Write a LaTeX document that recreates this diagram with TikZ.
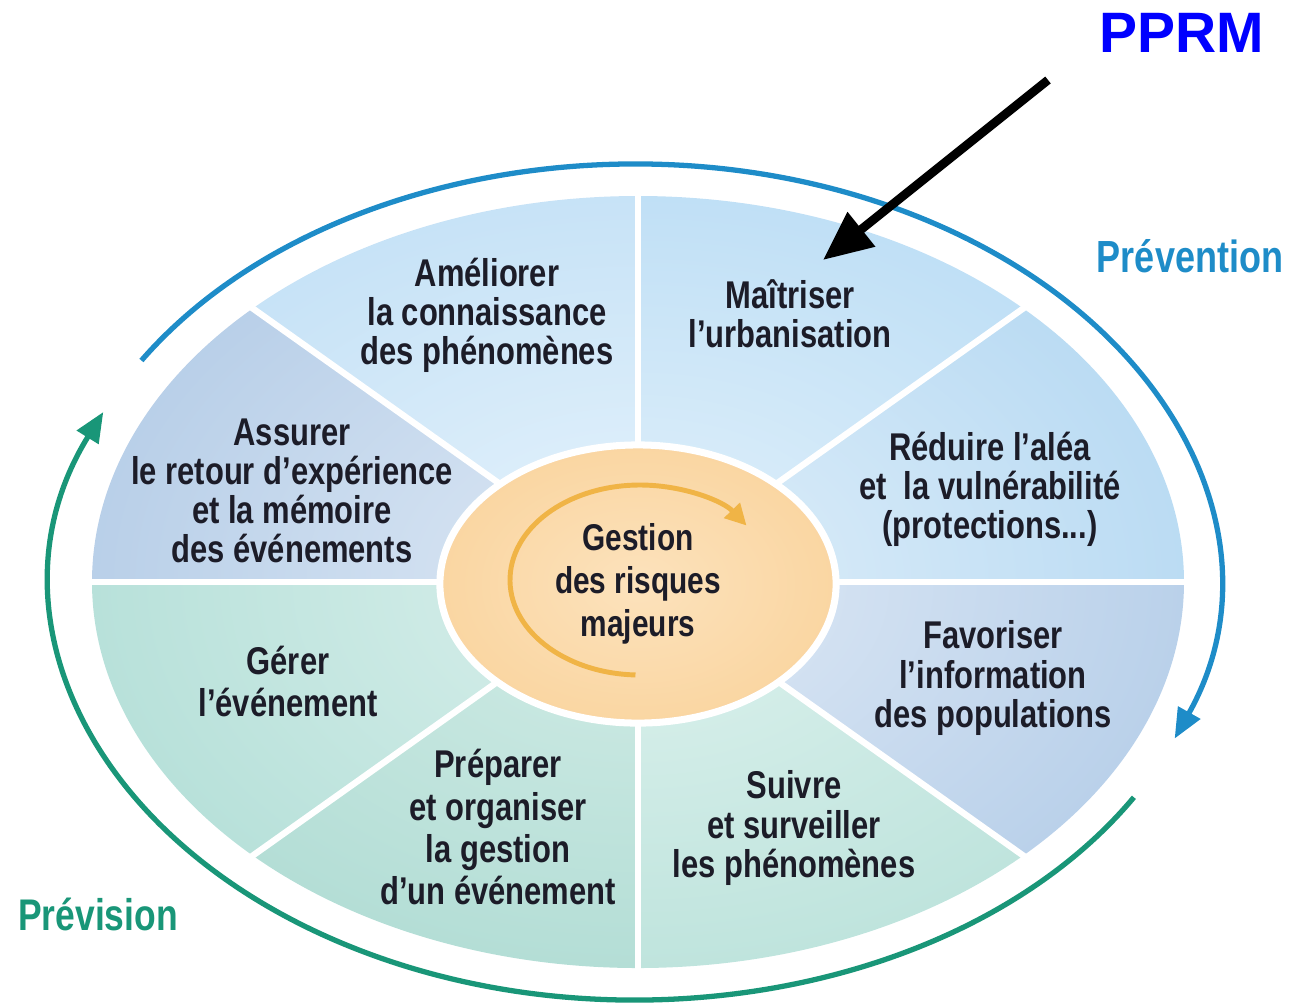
\documentclass[tikz,border=0pt]{standalone}
\usepackage{fontspec}
\usepackage{tikz}
\usetikzlibrary{arrows.meta,shapes.geometric}
\newfontfamily\labelfont{Liberation Sans}[FakeStretch=0.8]
\newfontfamily\pprmfont{Liberation Sans}
\definecolor{ink}{RGB}{28,28,40}
\definecolor{sRE}{RGB}{150,200,236}\definecolor{sREi}{RGB}{224,239,250}
\definecolor{sMA}{RGB}{158,206,240}\definecolor{sMAi}{RGB}{226,241,251}
\definecolor{sAM}{RGB}{168,210,241}\definecolor{sAMi}{RGB}{230,243,252}
\definecolor{sAS}{RGB}{148,182,220}\definecolor{sASi}{RGB}{222,233,245}
\definecolor{sGE}{RGB}{150,210,200}\definecolor{sGEi}{RGB}{218,240,236}
\definecolor{sPR}{RGB}{150,208,198}\definecolor{sPRi}{RGB}{210,236,230}
\definecolor{sSU}{RGB}{160,214,204}\definecolor{sSUi}{RGB}{222,242,238}
\definecolor{sFA}{RGB}{148,184,222}\definecolor{sFAi}{RGB}{224,234,246}
\definecolor{hubO}{RGB}{250,214,162}\definecolor{hubI}{RGB}{252,226,188}
\definecolor{spin}{RGB}{240,180,70}
\definecolor{prevB}{RGB}{30,140,200}
\definecolor{prevG}{RGB}{25,150,120}
\definecolor{pprm}{RGB}{0,0,255}

\begin{document}
\begin{tikzpicture}[x=0.01cm,y=0.01cm,
  txt/.style={align=center,text=ink,font=\labelfont\bfseries\fontsize{11}{11.1}\selectfont},
  txtwide/.style={font=\labelfont\bfseries\fontsize{11}{11.95}\selectfont},
  sep/.style={draw=white,line width=1.8pt},
  hub/.style={ellipse,minimum width=3.96cm,minimum height=2.78cm,draw=white,line width=2pt,inner color=hubI,outer color=hubO},
  ringB/.style={draw=prevB,line width=1.5pt,-{Triangle[length=8.5pt,width=7pt]}},
  ringG/.style={draw=prevG,line width=1.5pt,-{Triangle[length=8.5pt,width=7pt]}},
  turn/.style={draw=spin,line width=1.4pt,-{Triangle[length=6pt,width=6pt]}},
  pointer/.style={draw=black,line width=2.5pt,-{Triangle[length=14pt,width=12pt]}}]
  \useasboundingbox (-638,-420) rectangle (657,582);
  \foreach \a/\oc/\ic in {0/sRE/sREi,45/sMA/sMAi,90/sAM/sAMi,135/sAS/sASi,180/sGE/sGEi,225/sPR/sPRi,270/sSU/sSUi,315/sFA/sFAi}{
    \begin{scope}
      \clip (0,0) -- (\a:546 and 386) arc[start angle=\a,end angle=\a+45,x radius=546,y radius=386] -- cycle;
      \shade[inner color=\ic,outer color=\oc] (0,0) ellipse [x radius=1092,y radius=772];
    \end{scope}
  }
  \foreach \a in {0,45,...,315}
    \draw[sep] (0,0) -- (\a:552 and 392);
  \node[hub,txt,font=\labelfont\bfseries\fontsize{10.6}{12.2}\selectfont] (GR) at (0,-2) {Gestion\\des risques\\majeurs};
  \draw[turn] (2,2) ++(268:130 and 95) arc[start angle=268,end angle=35,x radius=130,y radius=95];
  \coordinate (O) at (-3,0);
  \draw[ringB] (O) ++(148:582 and 418) arc[start angle=148,end angle=-22,x radius=582,y radius=418];
  \draw[ringG] (O) ++(-31:582 and 418) arc[start angle=-31,end angle=-204,x radius=582,y radius=418];
  \node[txt] (AM) at (-151,267) {Améliorer\\la connaissance\\des phénomènes};
  \node[txt] (MA) at (152,268) {Maîtriser\\l’urbanisation};
  \node[txt] (RE) at (352,93) {Réduire l’aléa\\et\ \ la vulnérabilité\\(protections...)};
  \node[txt] (AS) at (-346,91) {Assurer\\le retour d’expérience\\et la mémoire\\des événements};
  \node[txt,txtwide] (GE) at (-350,-99) {Gérer\\l’événement};
  \node[txt,txtwide] (PR) at (-140,-245) {Préparer\\et organiser\\la gestion\\d’un événement};
  \node[txt] (SU) at (156,-246) {Suivre\\et surveiller\\les phénomènes};
  \node[txt] (FA) at (355,-96) {Favoriser\\l’information\\des populations};
  \node[font=\labelfont\bfseries\fontsize{12.8}{14}\selectfont,text=prevB] (PV) at (552,326) {Prévention};
  \node[font=\labelfont\bfseries\fontsize{12.6}{14}\selectfont,text=prevG] (PS) at (-540,-332) {Prévision};
  \node[font=\pprmfont\bfseries\fontsize{16.2}{18}\selectfont,text=pprm] (PP) at (544,549) {PPRM};
  \coordinate (tail) at (410,502);
  \coordinate (tip) at (185,322);
  \draw[pointer] (tail) -- (tip);
\end{tikzpicture}
\end{document}
